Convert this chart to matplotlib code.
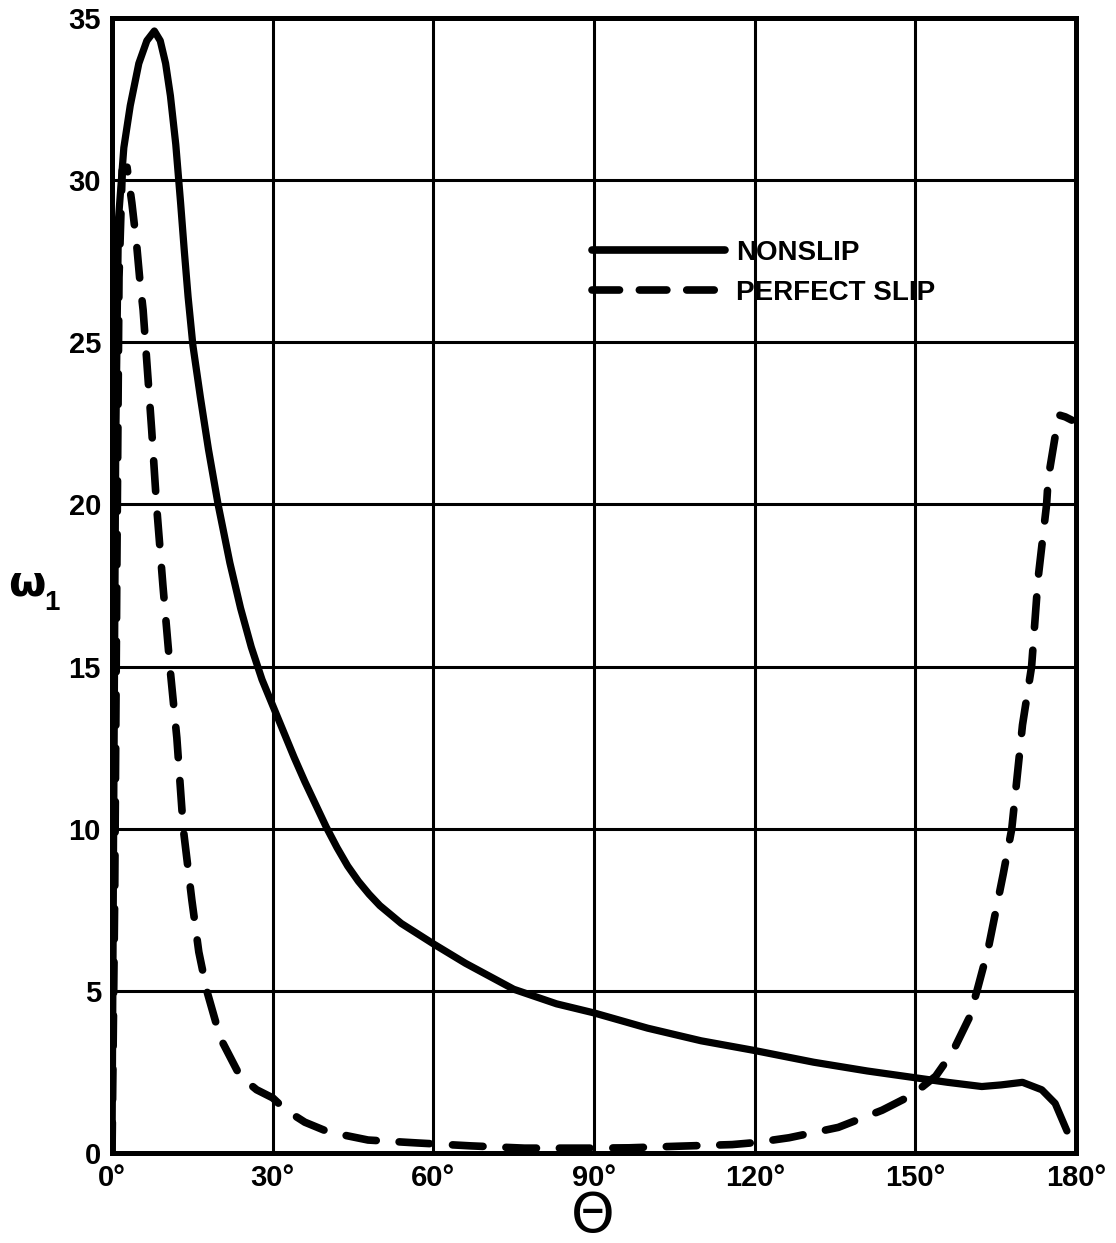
import matplotlib.pyplot as plt
from matplotlib.lines import Line2D

# angle (deg) and omega_1
nonslip_theta = [0, 0.3, 0.7, 1.2, 2.2, 3.4, 5.0, 6.5, 7.9, 9.0, 10.0, 10.9, 11.9, 12.8,
                 13.5, 14.2, 15.1, 16.5, 18.0, 19.8, 22.0, 24.0, 26.0, 28.0, 30.0, 32.0,
                 34.0, 36.0, 38.0, 40.0, 42.0, 44.0, 46.0, 48.0, 50.0, 54.0, 60.0, 66.0,
                 75.0, 83.0, 90.0, 100.0, 110.0, 120.0, 131.0, 141.0, 150.0, 156.0,
                 162.4, 166.0, 170.0, 173.6, 176.1, 178.3]
nonslip_w = [0, 10.0, 22.0, 28.8, 31.0, 32.3, 33.6, 34.3, 34.6, 34.3, 33.6, 32.6, 31.1, 29.3,
             27.8, 26.4, 24.9, 23.3, 21.7, 20.0, 18.2, 16.8, 15.6, 14.6, 13.8, 13.0,
             12.2, 11.45, 10.75, 10.05, 9.42, 8.85, 8.38, 7.98, 7.63, 7.08, 6.45, 5.85,
             5.05, 4.6, 4.32, 3.85, 3.46, 3.16, 2.8, 2.53, 2.32, 2.18,
             2.05, 2.1, 2.18, 1.95, 1.53, 0.68]

slip_theta = [0, 0.5, 0.9, 1.3, 1.9, 2.8, 3.7, 4.6, 5.2, 5.8, 7.4, 8.3, 9.5, 10.8, 12.1,
              13.3, 14.9, 16.2, 17.7, 20.2, 23.9, 27.0, 30.0, 32.4, 36.0, 40.4, 47.8, 57.0,
              67.0, 77.0, 89.0, 96.5, 105.8, 115.8, 120.0, 126.4, 135.6, 143.8, 149.4,
              153.8, 156.9, 160.0, 161.5, 163.6, 166.4, 168.0, 170.0, 171.7, 172.9, 174.5,
              174.8, 175.9, 176.5, 177.0, 178.0, 179.2]
slip_w = [0, 8.0, 18.0, 27.0, 30.3, 30.4, 29.3, 28.0, 26.9, 26.0, 22.3, 20.0, 17.5, 15.0, 12.8,
          10.0, 7.8, 6.2, 5.0, 3.55, 2.37, 1.95, 1.7, 1.33, 0.95, 0.65, 0.4, 0.31,
          0.22, 0.15, 0.15, 0.16, 0.21, 0.26, 0.32, 0.47, 0.79, 1.32, 1.79,
          2.37, 3.1, 4.15, 5.0, 6.3, 8.6, 10.0, 13.2, 15.0, 17.7, 20.0,
          20.8, 21.9, 22.5, 22.75, 22.7, 22.6]

x_ticks = [0, 30, 60, 90, 120, 150, 180]
x_tick_labels = ["0°", "30°", "60°", "90°", "120°", "150°", "180°"]
y_ticks = [0, 5, 10, 15, 20, 25, 30, 35]

font = ["Liberation Sans Narrow", "Liberation Sans", "DejaVu Sans"]
plt.rcParams["font.family"] = font

fig = plt.figure(figsize=(11.16, 12.43), dpi=100)
ax = fig.add_axes([0.1004, 0.0724, 0.8638, 0.9131])

ax.plot(nonslip_theta, nonslip_w, color="black", lw=5.2, solid_capstyle="round",
        solid_joinstyle="round")
ax.plot(slip_theta, slip_w, color="black", lw=5.5, dashes=(4.0, 3.0),
        dash_capstyle="round", dash_joinstyle="round")

ax.set_xlim(0, 180)
ax.set_ylim(0, 35)
ax.set_xticks(x_ticks)
ax.set_xticklabels(x_tick_labels)
ax.set_yticks(y_ticks)
ax.tick_params(length=0, labelsize=21, pad=8)
for lab in ax.get_xticklabels() + ax.get_yticklabels():
    lab.set_fontweight("bold")

ax.grid(True, color="black", lw=2.2)
ax.set_axisbelow(True)
for sp in ax.spines.values():
    sp.set_linewidth(3.6)

# axis labels
fig.text(0.531, 0.021, "Θ", fontsize=40, ha="center", va="center",
         family=["DejaVu Sans"])
fig.text(0.007, 0.521, "ω", fontsize=31, fontweight="bold", va="baseline",
         family=["DejaVu Sans"])
fig.text(0.040, 0.509, "1", fontsize=20, fontweight="bold", va="baseline")

handles = [Line2D([], [], color="black", lw=5.5, solid_capstyle="round"),
           Line2D([], [], color="black", lw=5.5, dashes=(3.6, 2.6),
                  dash_capstyle="round")]
leg = ax.legend(handles, ["NONSLIP", "PERFECT SLIP"], loc="upper left",
                bbox_to_anchor=(0.483, 0.817), frameon=False, handlelength=4.8,
                handletextpad=0.4, labelspacing=0.5, borderpad=0,
                prop={"weight": "bold", "size": 20, "family": font})

fig.savefig("out.png", dpi=100)
